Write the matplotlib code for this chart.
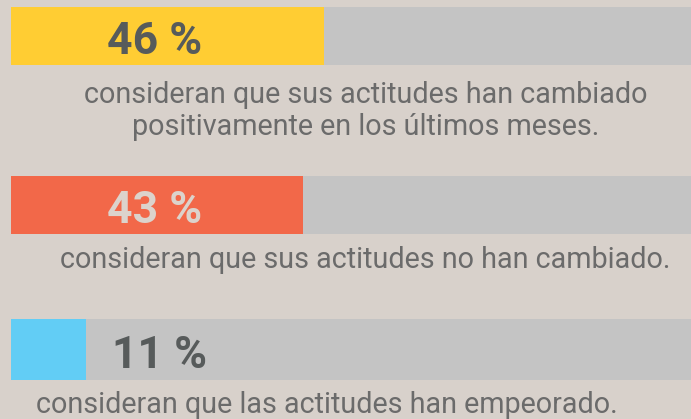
import matplotlib.pyplot as plt

# survey shares (percent) and their captions
shares = [46, 43, 11]
bar_colors = ["#ffcd33", "#f26849", "#62cdf5"]
value_colors = ["#575b5b", "#dcd3cc", "#575b5b"]
captions = [
    "consideran que sus actitudes han cambiado\npositivamente en los últimos meses.",
    "consideran que sus actitudes no han cambiado.",
    "consideran que las actitudes han empeorado.",
]

W, H = 691, 419
px = 6.8          # pixels per percent
x0 = 11           # left edge of the bars in pixels

fig = plt.figure(figsize=(W / 100, H / 100), dpi=100, facecolor="#d8d1cb")
ax = fig.add_axes([0, 0, 1, 1])
ax.set_facecolor("#d8d1cb")
ax.set_xlim(-x0 / px, (W - x0) / px)
ax.set_ylim(H, 0)
ax.axis("off")

bar_y = [36, 205, 349.5]
bar_h = [58, 58, 61]
label_x = [155, 155, 160]
cap_x = [366, 365, 327]
cap_y = [135, 268, 413]   # baseline of the last caption line

for i, v in enumerate(shares):
    # grey track, then the coloured share on top
    ax.barh(bar_y[i], 100, height=bar_h[i], left=0, color="#c4c4c4", zorder=1)
    ax.barh(bar_y[i], v, height=bar_h[i], left=0, color=bar_colors[i], zorder=2)
    ax.text((label_x[i] - x0) / px, bar_y[i] + 6, f"{v} %", ha="center", va="center",
            fontsize=32, fontweight="bold", family="Roboto", color=value_colors[i], zorder=3)
    ax.text((cap_x[i] - x0) / px, cap_y[i], captions[i], ha="center", va="baseline",
            fontsize=20.7, family="Roboto", fontweight="normal", color="#6b6b6b",
            linespacing=1.2, zorder=3)

fig.savefig("out.png", dpi=100, facecolor=fig.get_facecolor())
